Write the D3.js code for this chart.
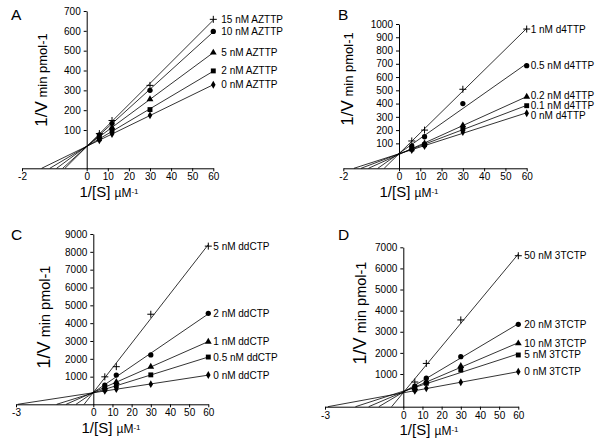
<!DOCTYPE html>
<html><head><meta charset="utf-8">
<script src="https://cdn.jsdelivr.net/npm/d3@7"></script>
<style>
body{margin:0;background:#fff}
svg{display:block}
text{font-family:"Liberation Sans",Arial,Helvetica,sans-serif;fill:#000}
</style>
</head><body>
<svg id="chart" width="600" height="439"></svg>
<script>
// ---------- data ----------
const xValues = [6, 12, 30, 60];           // 1/[S] (µM^-1)
const markerShapes = ["plus", "circle", "triangle", "square", "diamond"];
const posXTicks = [0, 10, 20, 30, 40, 50, 60];

const seriesA = ["15 nM AZTTP", "10 nM AZTTP", "5 nM AZTTP", "2 nM AZTTP", "0 nM AZTTP"];
const valuesA = [
  [82, 148, 325, 658],
  [76, 134, 300, 597],
  [66, 113, 255, 490],
  [56, 95, 203, 398],
  [48, 80, 174, 328]
];
const yTicksA = [100, 200, 300, 400, 500, 600, 700];
const negTickA = -2;

const seriesB = ["1 nM d4TTP", "0.5 nM d4TTP", "0.2 nM d4TTP", "0.1 nM d4TTP", "0 nM d4TTP"];
const valuesB = [
  [118, 200, 508, 962],
  [80, 150, 400, 686],
  [62, 100, 236, 452],
  [57, 90, 210, 384],
  [50, 80, 185, 327]
];
const yTicksB = [100, 200, 300, 400, 500, 600, 700, 800, 900, 1000];
const negTickB = -2;

const seriesC = ["5 nM ddCTP", "2 nM ddCTP", "1 nM ddCTP", "0.5 nM ddCTP", "0 nM ddCTP"];
const valuesC = [
  [990, 1560, 4500, 8320],
  [520, 1090, 2220, 4550],
  [390, 700, 1560, 2960],
  [300, 480, 1100, 2100],
  [200, 300, 580, 1090]
];
const yTicksC = [1000, 2000, 3000, 4000, 5000, 6000, 7000, 8000, 9000];
const negTickC = -3;

const seriesD = ["50 nM 3TCTP", "20 nM 3TCTP", "10 nM 3TCTP", "5 nM 3TCTP", "0 nM 3TCTP"];
const valuesD = [
  [620, 1500, 3560, 6600],
  [420, 800, 1820, 3350],
  [330, 640, 1380, 2450],
  [280, 560, 1190, 1900],
  [200, 320, 607, 1110]
];
const yTicksD = [1000, 2000, 3000, 4000, 5000, 6000, 7000];
const negTickD = -3;

// ---------- layout (positions only) ----------
const panels = [
  {letter: "A", series: seriesA, values: valuesA, yTicks: yTicksA, negTick: negTickA,
   L: {lx: 11, ly: 19.5, x0: 86.7, x60: 213.3, xNeg: 22, yBot: 168.3, yTop: 11, yMin: -93, yMax: 700,
       ytx: 46.5, yty: 80, ySize1: 17, ySize2: 13, xtx: 109, xty: 197, labDx: 8, labNudge: [0,0,0,0,0]}},
  {letter: "B", series: seriesB, values: valuesB, yTicks: yTicksB, negTick: negTickB,
   L: {lx: 338, ly: 19.5, x0: 399, x60: 526.7, xNeg: 343.3, yBot: 168.3, yTop: 24, yMin: -88, yMax: 1000,
       ytx: 353, yty: 79, ySize1: 17, ySize2: 13, xtx: 409, xty: 197, labDx: 4, labNudge: [0,0,-1,0,2]}},
  {letter: "C", series: seriesC, values: valuesC, yTicks: yTicksC, negTick: negTickC,
   L: {lx: 11, ly: 239.5, x0: 93.3, x60: 208.3, xNeg: 16, yBot: 404.3, yTop: 234, yMin: -550, yMax: 9000,
       ytx: 50, yty: 317, ySize1: 18, ySize2: 14.5, xtx: 111, xty: 433, labDx: 5, labNudge: [0,0,0,0,0]}},
  {letter: "D", series: seriesD, values: valuesD, yTicks: yTicksD, negTick: negTickD,
   L: {lx: 338, ly: 239.5, x0: 403.3, x60: 518.3, xNeg: 325, yBot: 406.7, yTop: 247.3, yMin: -549, yMax: 7000,
       ytx: 366, yty: 313, ySize1: 18, ySize2: 14.5, xtx: 429, xty: 435, labDx: 6, labNudge: [0,0,0,0,0]}}
];

const svg = d3.select("#chart");

function linFit(xs, ys) {
  const mx = d3.mean(xs), my = d3.mean(ys);
  let sxy = 0, sxx = 0;
  xs.forEach((x, i) => { sxy += (x - mx) * (ys[i] - my); sxx += (x - mx) * (x - mx); });
  const b = sxy / sxx;
  return {a: my - b * mx, b};
}

function marker(g, shape, px, py) {
  if (shape === "plus") {
    g.append("path").attr("d", `M${px - 3.5},${py}H${px + 3.5}M${px},${py - 3.5}V${py + 3.5}`)
      .attr("stroke", "#000").attr("stroke-width", 1).attr("fill", "none");
  } else {
    const typ = {circle: d3.symbolCircle, triangle: d3.symbolTriangle, square: d3.symbolSquare, diamond: d3.symbolDiamond}[shape];
    const size = {circle: 22, triangle: 20, square: 24, diamond: 18}[shape];
    g.append("path").attr("d", d3.symbol().type(typ).size(size)())
      .attr("transform", `translate(${px},${py})`).attr("fill", "#000");
  }
}

panels.forEach(p => {
  const L = p.L;
  const g = svg.append("g");
  const xLin = d3.scaleLinear().domain([0, 60]).range([L.x0, L.x60]);
  const xAx = d3.scaleLinear().domain([p.negTick, 0, 60]).range([L.xNeg, L.x0, L.x60]);
  const y = d3.scaleLinear().domain([L.yMin, L.yMax]).range([L.yBot, L.yTop]);

  // axes
  const xa = g.append("g").attr("transform", `translate(0,${L.yBot})`)
    .call(d3.axisBottom(xAx).tickValues([p.negTick].concat(posXTicks)).tickFormat(d => String(d))
      .tickSize(3).tickSizeOuter(0).tickPadding(2));
  const ya = g.append("g").attr("transform", `translate(${L.x0},0)`)
    .call(d3.axisLeft(y).tickValues(p.yTicks).tickFormat(d => String(d))
      .tickSize(3).tickSizeOuter(0).tickPadding(3));
  [xa, ya].forEach(a => {
    a.selectAll("text").attr("font-size", 10).attr("font-family", null);
    a.selectAll("path,line").attr("stroke", "#000").attr("stroke-width", 1);
  });

  // fitted lines, extended down to the x-axis line
  p.values.forEach((vals, i) => {
    const f = linFit(xValues, vals);
    const xEnd = (L.yMin - f.a) / f.b;
    g.append("line")
      .attr("x1", xLin(xEnd)).attr("y1", y(L.yMin))
      .attr("x2", xLin(60)).attr("y2", y(f.a + f.b * 60))
      .attr("stroke", "#000").attr("stroke-width", 0.8);
  });
  // markers and end labels
  p.values.forEach((vals, i) => {
    vals.forEach((v, j) => marker(g, markerShapes[i], xLin(xValues[j]), y(v)));
    g.append("text").attr("x", xLin(60) + L.labDx).attr("y", y(vals[vals.length - 1]) + L.labNudge[i])
      .attr("dy", "0.35em").attr("font-size", 10).text(p.series[i]);
  });

  // panel letter
  g.append("text").attr("x", L.lx).attr("y", L.ly).attr("font-size", 15.5).text(p.letter);

  // y title
  const yt = g.append("text").attr("transform", `translate(${L.ytx},${L.yty}) rotate(-90)`)
    .attr("text-anchor", "middle");
  yt.append("tspan").attr("font-size", L.ySize1).text("1/V");
  yt.append("tspan").attr("font-size", L.ySize2).text(" min pmol-1");

  // x title
  const xt = g.append("text").attr("x", L.xtx).attr("y", L.xty).attr("text-anchor", "middle");
  xt.append("tspan").attr("font-size", 15).text("1/[S] ");
  xt.append("tspan").attr("font-size", 12).text("µM");
  xt.append("tspan").attr("font-size", 8).attr("dy", -3).text("-1");
});
</script>
</body></html>
